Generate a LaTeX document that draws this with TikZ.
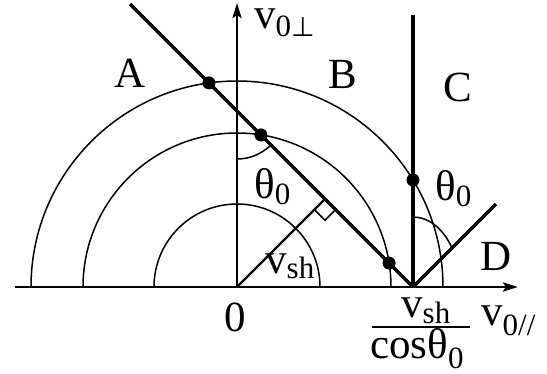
\documentclass[tikz,border=0pt]{standalone}
\usepackage{fontspec}
\setmainfont{Liberation Serif}
\newfontfamily\symfont{DejaVu Sans}
\usetikzlibrary{arrows.meta}
\newcommand\mylow[2][6pt]{\raisebox{-#1}{\fontsize{31}{31}\selectfont #2}}
\begin{document}
\begin{tikzpicture}[x=1pt,y=-1pt,
  lab/.style={inner sep=0pt,font=\fontsize{43}{48}\selectfont},
  axisline/.style={line width=2.8pt,-{Stealth[length=15pt,width=9pt,inset=3pt]}},
  heavy/.style={line width=3.4pt},
  medium/.style={line width=2.2pt},
  arcline/.style={line width=1.5pt},
  dotnode/.style={circle,fill=black,inner sep=0pt,minimum size=13pt}]
\useasboundingbox (0,0) rectangle (547,373);
% key points
\coordinate (O) at (237,287);
\coordinate (V) at (413,287);
\coordinate (F) at (325,199);
\coordinate (P) at (237,111);
\coordinate (Xl) at (15,287);
\coordinate (Xr) at (518,287);
\coordinate (Yt) at (237,3);
\coordinate (Lt) at (130,4);
\coordinate (Ct) at (413,15);
\coordinate (Dt) at (496,204);
% semicircles
\draw[arcline] (O) ++(-206,0) arc[start angle=180,end angle=360,radius=206];
\draw[arcline] (O) ++(-154,0) arc[start angle=180,end angle=360,radius=154];
\draw[arcline] (O) ++(-83,0) arc[start angle=180,end angle=360,radius=83];
% angle arcs
\draw[arcline] (P) ++(0,48) arc[start angle=90,end angle=45,radius=48];
\draw[arcline] (V) ++(0,-70) arc[start angle=-90,end angle=-34,x radius=47,y radius=70];
% right angle mark
\coordinate (R1) at (314.4,209.6);
\coordinate (R2) at (325,220.2);
\coordinate (R3) at (335.6,209.6);
\draw[arcline] (R1) -- (R2) -- (R3);
% axes
\draw[axisline] (Xl) -- (Xr);
\draw[axisline] (O) -- (Yt);
% lines
\draw[heavy] (Lt) -- (V);
\draw[heavy] (Ct) -- (V);
\draw[heavy] (V) -- (Dt);
\draw[medium] (O) -- (F);
% dots
\node[dotnode] (d1) at (208.9,82.9) {};
\node[dotnode] (d2) at (260.9,134.9) {};
\node[dotnode] (d3) at (389.1,263.1) {};
\node[dotnode] (d4) at (413,180) {};
% labels
\node[lab,anchor=base west] (vperp) at (254,28) {v\mylow[8pt]{0{\symfont\fontsize{27}{27}\selectfont ⊥}}};
\node[lab,anchor=base] (A) at (130,87) {A};
\node[lab,anchor=base] (B) at (343,88) {B};
\node[lab,anchor=base] (C) at (458,101) {C};
\node[lab,anchor=base] (D) at (496,270) {D};
\node[lab,anchor=base west] (th1) at (254,198) {θ\mylow{0}};
\node[lab,anchor=base west] (th2) at (435,200) {θ\mylow{0}};
\node[lab,anchor=base west] (vsh) at (265,273) {v\mylow[5pt]{sh}};
\node[lab,anchor=base] (zero) at (235,331) {0};
\node[lab,anchor=base west] (num) at (401,317) {v\mylow[6pt]{sh}};
\node[lab,anchor=base west] (den) at (370,358) {cosθ\mylow[10pt]{0}};
\coordinate (Bl) at (372,327);
\coordinate (Br) at (470,327);
\draw[medium] (Bl) -- (Br);
\node[lab,anchor=base west] (vpar) at (481,325) {v\mylow[10pt]{0//}};
\end{tikzpicture}
\end{document}
